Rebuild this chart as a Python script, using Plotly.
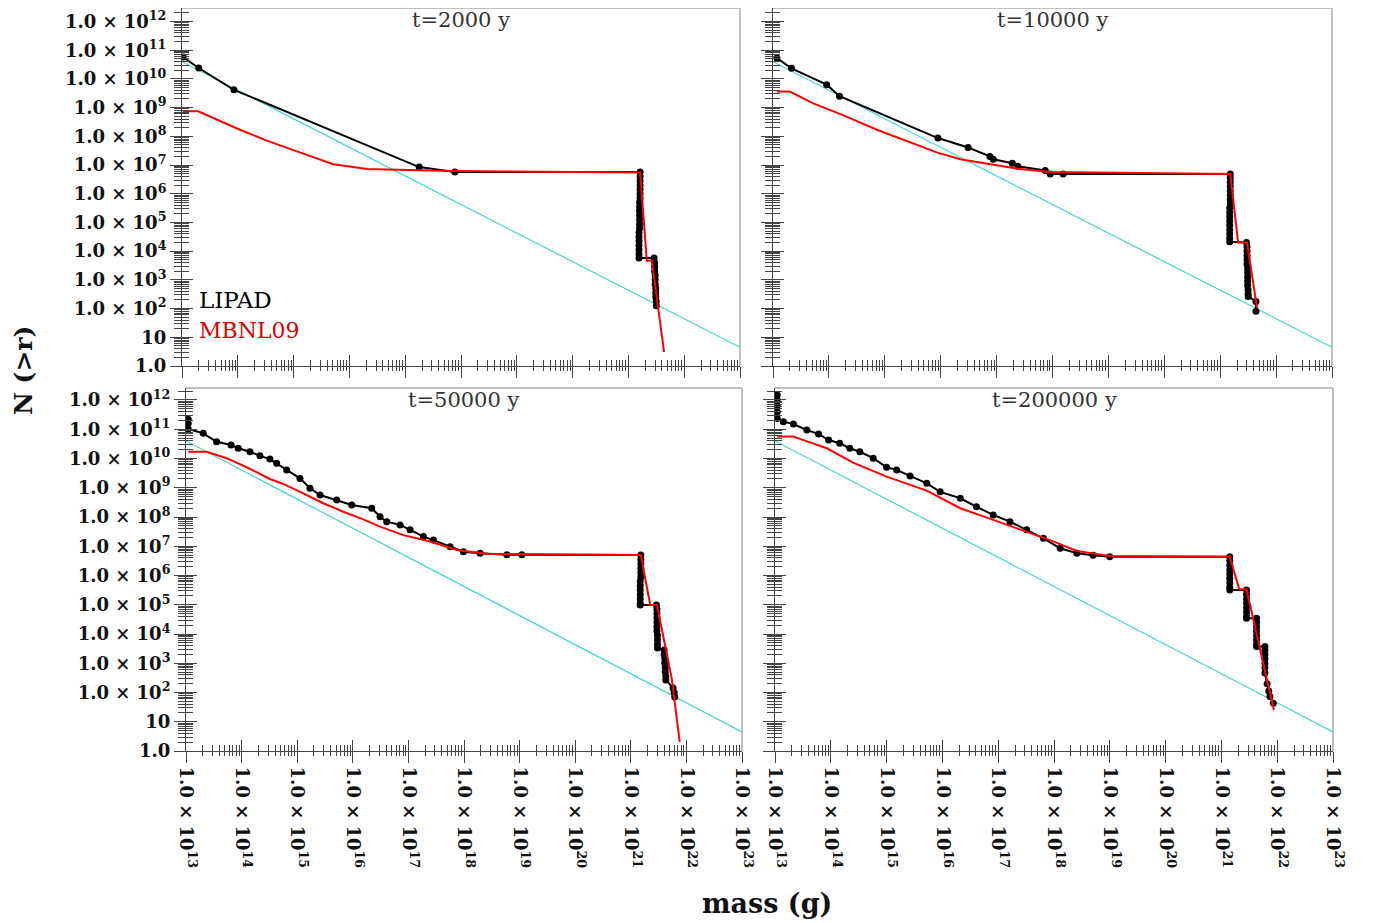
import numpy as np
import plotly.graph_objects as go

# ---------------- data (log10 values) ----------------
decade_x = list(range(13, 24))          # mass tick decades (g)
decade_y = list(range(0, 13))           # N(>r) tick decades
x_tick_text = ["1.0 × 10<sup>%d</sup>" % d for d in decade_x]
y_tick_text = ["1.0", "10"] + ["1.0 × 10<sup>%d</sup>" % d for d in decade_y[2:]]

panel_titles = ["t=2000 y", "t=10000 y", "t=50000 y", "t=200000 y"]

# power-law reference line (same in all panels)
ref_logm = [13.0, 23.0]
ref_logn = [10.6, 0.65]

# t = 2000 y
lipad_2000_logm = [13.02, 13.30, 13.93, 17.25, 17.89,
                   21.21, 21.21, 21.21, 21.21, 21.21, 21.21, 21.21,
                   21.20, 21.20, 21.20, 21.20, 21.20, 21.20, 21.20,
                   21.19, 21.19, 21.19, 21.19, 21.19, 21.19, 21.19,
                   21.46, 21.47, 21.47, 21.47, 21.48, 21.48, 21.48, 21.49, 21.49, 21.49, 21.50, 21.50]
lipad_2000_logn = [10.76, 10.38, 9.62, 6.93, 6.76,
                   6.76, 6.60, 6.45, 6.30, 6.15, 6.00, 5.85,
                   5.70, 5.55, 5.40, 5.25, 5.10, 4.95, 4.80,
                   4.65, 4.50, 4.35, 4.20, 4.05, 3.90, 3.76,
                   3.76, 3.60, 3.45, 3.30, 3.15, 3.00, 2.85, 2.70, 2.55, 2.40, 2.25, 2.10]
mbnl_2000_logm = [13.02, 13.29, 14.04, 14.52, 15.11, 15.71, 16.32, 16.91, 17.80, 21.21, 21.33, 21.42, 21.64]
mbnl_2000_logn = [8.87, 8.87, 8.23, 7.85, 7.44, 7.03, 6.86, 6.83, 6.79, 6.74, 3.67, 3.67, 0.48]

# t = 10000 y
lipad_10000_logm = [13.07, 13.33, 13.96, 14.19, 15.95, 16.49, 16.88, 16.94, 17.28, 17.38, 17.87, 17.96, 18.19,
                    21.18, 21.18, 21.18, 21.18, 21.18, 21.18, 21.18, 21.18, 21.17, 21.17, 21.17, 21.17,
                    21.17, 21.17, 21.17, 21.17, 21.17,
                    21.47, 21.48, 21.48, 21.48, 21.48, 21.48, 21.49, 21.49, 21.49, 21.49, 21.49, 21.50,
                    21.50, 21.50,
                    21.64, 21.64]
lipad_10000_logn = [10.73, 10.37, 9.80, 9.40, 7.94, 7.61, 7.30, 7.20, 7.06, 6.96, 6.81, 6.69, 6.69,
                    6.69, 6.55, 6.40, 6.25, 6.10, 5.95, 5.80, 5.65, 5.50, 5.35, 5.20, 5.05,
                    4.90, 4.75, 4.60, 4.45, 4.33,
                    4.30, 4.15, 4.00, 3.85, 3.70, 3.55, 3.40, 3.25, 3.10, 2.95, 2.80, 2.65,
                    2.50, 2.42,
                    2.25, 1.91]
mbnl_10000_logm = [13.07, 13.30, 13.72, 14.25, 14.86, 15.45, 15.93, 16.35, 16.88, 17.42, 17.96, 21.18,
                   21.32, 21.48, 21.66]
mbnl_10000_logn = [9.56, 9.56, 9.15, 8.74, 8.23, 7.78, 7.44, 7.20, 7.03, 6.86, 6.76, 6.69,
                   4.30, 4.30, 2.01]

# t = 50000 y
lipad_50000_logm = [13.04, 13.04, 13.04, 13.31, 13.55, 13.81, 13.94, 14.15, 14.33, 14.51, 14.63, 14.81,
                    15.05, 15.23, 15.41, 15.71, 15.98, 16.34, 16.49, 16.61, 16.85, 17.03, 17.27, 17.45,
                    17.75, 17.99, 18.29, 18.77, 19.04,
                    21.18, 21.18, 21.18, 21.18, 21.18, 21.18, 21.17, 21.17, 21.17, 21.17, 21.17, 21.17, 21.17,
                    21.46, 21.47, 21.47, 21.47, 21.47, 21.47, 21.47, 21.48, 21.48, 21.48, 21.48,
                    21.60, 21.60, 21.61, 21.61, 21.62, 21.62, 21.63, 21.63,
                    21.76, 21.78, 21.79]
lipad_50000_logn = [11.34, 11.20, 11.01, 10.86, 10.57, 10.46, 10.35, 10.23, 10.09, 9.98, 9.84, 9.61,
                    9.32, 8.98, 8.75, 8.58, 8.41, 8.30, 8.01, 7.84, 7.73, 7.56, 7.33, 7.21,
                    6.98, 6.81, 6.76, 6.71, 6.71,
                    6.70, 6.55, 6.40, 6.25, 6.10, 5.95, 5.80, 5.65, 5.50, 5.35, 5.20, 5.05, 4.99,
                    4.99, 4.85, 4.70, 4.55, 4.40, 4.25, 4.10, 3.95, 3.80, 3.65, 3.52,
                    3.45, 3.30, 3.15, 3.00, 2.85, 2.70, 2.55, 2.43,
                    2.15, 2.00, 1.85]
mbnl_50000_logm = [13.04, 13.37, 13.73, 14.09, 14.51, 14.75, 15.11, 15.47, 15.83, 16.19, 16.49, 16.91,
                   17.39, 17.87, 18.41, 21.18, 21.35, 21.47, 21.67, 21.74, 21.88]
mbnl_50000_logn = [10.23, 10.23, 10.01, 9.70, 9.30, 9.13, 8.81, 8.47, 8.18, 7.92, 7.67, 7.38,
                   7.16, 6.87, 6.74, 6.70, 4.99, 4.99, 3.11, 2.43, 0.31]

# t = 200000 y
lipad_200000_logm = [13.04, 13.04, 13.04, 13.04, 13.04, 13.15, 13.33, 13.57, 13.78, 13.96, 14.16, 14.34,
                     14.52, 14.76, 15.00, 15.18, 15.42, 15.72, 15.96, 16.32, 16.61, 16.91, 17.21, 17.51,
                     17.81, 18.11, 18.41, 18.70, 19.00,
                     21.15, 21.15, 21.15, 21.15, 21.15, 21.15, 21.15, 21.15, 21.15,
                     21.45, 21.45, 21.45, 21.45, 21.45, 21.45, 21.45, 21.45,
                     21.63, 21.63, 21.63, 21.63, 21.63, 21.63, 21.63, 21.63,
                     21.78, 21.78, 21.78, 21.78, 21.78, 21.78, 21.78,
                     21.82, 21.85, 21.87, 21.93]
lipad_200000_logn = [12.17, 12.00, 11.80, 11.60, 11.37, 11.26, 11.18, 10.97, 10.84, 10.63, 10.52, 10.35,
                     10.23, 10.01, 9.70, 9.61, 9.40, 9.15, 8.86, 8.64, 8.35, 8.07, 7.84, 7.56,
                     7.27, 6.93, 6.76, 6.69, 6.64,
                     6.64, 6.50, 6.35, 6.20, 6.05, 5.90, 5.75, 5.60, 5.50,
                     5.50, 5.35, 5.20, 5.05, 4.90, 4.75, 4.60, 4.54,
                     4.54, 4.40, 4.25, 4.10, 3.95, 3.80, 3.65, 3.57,
                     3.57, 3.45, 3.30, 3.15, 3.00, 2.85, 2.67,
                     2.30, 2.05, 1.86, 1.63]
mbnl_200000_logm = [13.04, 13.33, 13.51, 13.93, 14.40, 15.00, 15.72, 16.32, 16.91, 17.51, 17.93, 18.41,
                    19.00, 21.15, 21.32, 21.45, 21.94]
mbnl_200000_logn = [10.75, 10.75, 10.63, 10.35, 9.86, 9.38, 8.90, 8.30, 7.90, 7.50, 7.21, 6.84,
                    6.67, 6.64, 5.53, 5.53, 1.40]

lipad_logm = [lipad_2000_logm, lipad_10000_logm, lipad_50000_logm, lipad_200000_logm]
lipad_logn = [lipad_2000_logn, lipad_10000_logn, lipad_50000_logn, lipad_200000_logn]
mbnl_logm = [mbnl_2000_logm, mbnl_10000_logm, mbnl_50000_logm, mbnl_200000_logm]
mbnl_logn = [mbnl_2000_logn, mbnl_10000_logn, mbnl_50000_logn, mbnl_200000_logn]

# ---------------- layout geometry ----------------
W, H = 1374, 923
OFF = 8   # page body margin offset of the figure div
px_x = [(182, 740), (773, 1332), (186, 742), (775, 1333)]
px_y = [(8, 366), (8, 366), (388, 751), (388, 751)]
y_top = [12.47, 12.47, 12.41, 12.41]


def fx(px):
    return min(1.0, max(0.0, (px - OFF) / W))


def fy(py):
    return min(1.0, max(0.0, 1 - (py - OFF) / H))


AX = "#444"
FRAME = "#aaaaaa"
tickfont = dict(family="DejaVu Serif", size=18, color="#111", weight="bold")

maj_x = [10.0 ** d for d in decade_x]
maj_y = [10.0 ** d for d in decade_y]
min_x = [k * 10.0 ** d for d in decade_x[:-1] for k in range(2, 10)]
min_y = [k * 10.0 ** d for d in range(0, 13) for k in range(2, 10)]

fig = go.Figure()
layout = dict(width=W, height=H, margin=dict(l=0, r=0, t=0, b=0, autoexpand=False),
              paper_bgcolor="white", plot_bgcolor="white", showlegend=False)
shapes, annotations = [], []

for i in range(4):
    n = i + 1
    o = i + 5
    sx = "" if n == 1 else str(n)
    xd = [fx(px_x[i][0]), fx(px_x[i][1])]
    yd = [fy(px_y[i][1]), fy(px_y[i][0])]
    bottom = i >= 2
    left = i % 2 == 0

    common = dict(showgrid=False, zeroline=False, automargin=False, tickcolor=AX, tickwidth=1,
                  tickmode="array")
    xa = dict(type="log", range=[13, 23], domain=xd, anchor="y" + sx,
              showline=True, linecolor=AX, linewidth=1, ticks="outside", ticklen=11,
              tickvals=maj_x, ticktext=x_tick_text, ticklabeloverflow="allow",
              showticklabels=bottom, tickangle=90, tickfont=tickfont,
              minor=dict(tickmode="array", tickvals=min_x, ticks="outside", ticklen=4, tickcolor=AX),
              **common)
    ya = dict(type="log", range=[0, y_top[i]], domain=yd, anchor="x" + sx,
              showline=True, linecolor=AX, linewidth=1, ticks="outside", ticklen=11,
              tickvals=maj_y, ticktext=y_tick_text, ticklabeloverflow="allow",
              showticklabels=left, tickfont=tickfont,
              minor=dict(tickmode="array", tickvals=min_y, ticks="outside", ticklen=7, tickcolor=AX),
              **common)
    xo = dict(type="log", range=[13, 23], overlaying="x" + sx, anchor="y" + sx,
              showline=False, ticks="inside", ticklen=11, tickvals=maj_x, showticklabels=False,
              minor=dict(tickmode="array", tickvals=min_x, ticks="inside", ticklen=6, tickcolor=AX),
              **common)
    yo = dict(type="log", range=[0, y_top[i]], overlaying="y" + sx, anchor="x" + sx,
              showline=False, ticks="inside", ticklen=11, tickvals=maj_y, showticklabels=False,
              minor=dict(tickmode="array", tickvals=min_y, ticks="inside", ticklen=7, tickcolor=AX),
              **common)
    layout["xaxis" + sx] = xa
    layout["yaxis" + sx] = ya
    layout["xaxis%d" % o] = xo
    layout["yaxis%d" % o] = yo

    # empty trace that activates the overlay tick axes
    fig.add_trace(go.Scatter(x=[], y=[], xaxis="x%d" % o, yaxis="y%d" % o, hoverinfo="skip"))

    xr, yr = "x" + sx, "y" + sx
    fig.add_trace(go.Scatter(x=np.power(10.0, ref_logm), y=np.power(10.0, ref_logn), mode="lines",
                             line=dict(color="#3fd3d3", width=1.2), xaxis=xr, yaxis=yr))
    fig.add_trace(go.Scatter(x=np.power(10.0, lipad_logm[i]), y=np.power(10.0, lipad_logn[i]),
                             mode="lines+markers", line=dict(color="black", width=2),
                             marker=dict(color="black", size=7), xaxis=xr, yaxis=yr))
    fig.add_trace(go.Scatter(x=np.power(10.0, mbnl_logm[i]), y=np.power(10.0, mbnl_logn[i]),
                             mode="lines", line=dict(color="#ff0000", width=2), xaxis=xr, yaxis=yr))

    # frame (top & right, gray)
    shapes.append(dict(type="line", xref=xr + " domain", yref=yr + " domain", x0=0, x1=1, y0=1, y1=1,
                       line=dict(color=FRAME, width=1.5)))
    shapes.append(dict(type="line", xref=xr + " domain", yref=yr + " domain", x0=1, x1=1, y0=0, y1=1,
                       line=dict(color=FRAME, width=1.5)))
    annotations.append(dict(text=panel_titles[i], xref=xr + " domain", yref=yr + " domain",
                            x=0.5, y=1, xanchor="center", yanchor="top", yshift=2, showarrow=False,
                            font=dict(family="DejaVu Serif", size=21, color="#333")))

annotations.append(dict(text="LIPAD", xref="x domain", yref="y domain", x=0.027, y=0.184,
                        xanchor="left", yanchor="middle", showarrow=False,
                        font=dict(family="DejaVu Serif", size=23, color="black")))
annotations.append(dict(text="MBNL09", xref="x domain", yref="y domain", x=0.027, y=0.100,
                        xanchor="left", yanchor="middle", showarrow=False,
                        font=dict(family="DejaVu Serif", size=22, color="#e00000")))
annotations.append(dict(text="<b>N (>r)</b>", xref="paper", yref="paper", x=fx(23), y=fy(371),
                        xanchor="center", yanchor="middle", textangle=-90, showarrow=False,
                        font=dict(family="DejaVu Serif", size=25, color="#111")))
annotations.append(dict(text="<b>mass (g)</b>", xref="paper", yref="paper", x=fx(767), y=fy(903),
                        xanchor="center", yanchor="middle", showarrow=False,
                        font=dict(family="DejaVu Serif", size=27, color="#111")))

layout["shapes"] = shapes
layout["annotations"] = annotations
fig.update_layout(**layout)
fig.write_html("out.html")
